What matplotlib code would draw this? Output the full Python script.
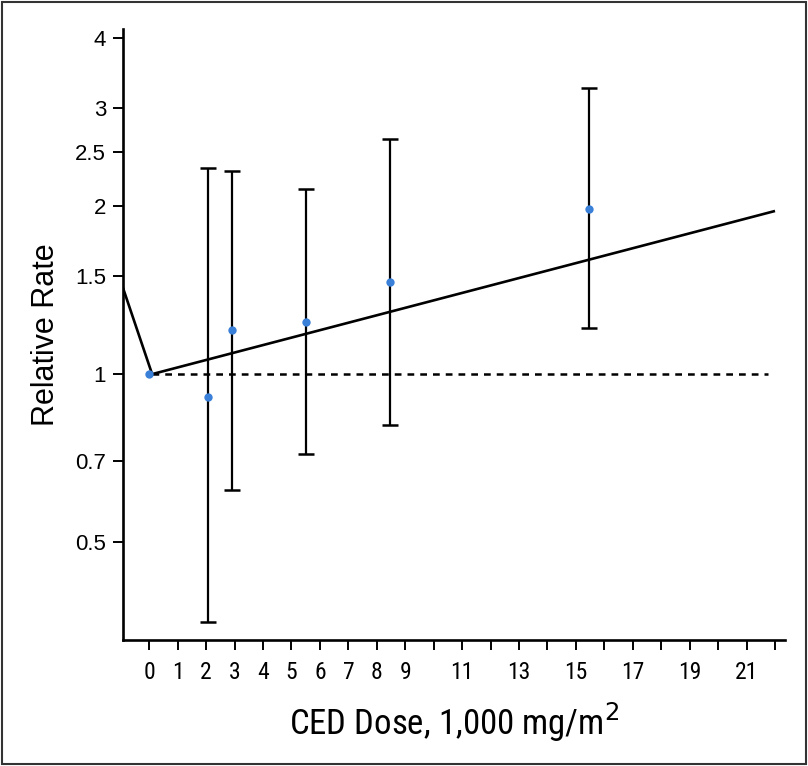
import matplotlib
matplotlib.use("Agg")
import matplotlib.pyplot as plt
from matplotlib.patches import Rectangle
from matplotlib import font_manager as fm
import numpy as np

# Data
dose = [0.0, 2.05, 2.9, 5.5, 8.45, 15.45]
rr = [1.0, 0.91, 1.20, 1.24, 1.46, 1.98]
ci_low = [np.nan, 0.36, 0.62, 0.72, 0.81, 1.21]
ci_high = [np.nan, 2.34, 2.31, 2.15, 2.64, 3.25]

fit_x = [-0.93, 0.1, 22.0]
fit_y = [1.43, 1.0, 1.96]

ref_x = [0.1, 21.75]
ref_y = [1.0, 1.0]

y_ticks = [0.5, 0.7, 1, 1.5, 2, 2.5, 3, 4]
y_ticklabels = ["0.5", "0.7", "1", "1.5", "2", "2.5", "3", "4"]
x_ticks = list(range(0, 23))
x_ticklabels = ["0", "1", "2", "3", "4", "5", "6", "7", "8", "9", "", "11", "",
                "13", "", "15", "", "17", "", "19", "", "21", ""]

names = {f.name for f in fm.fontManager.ttflist}
cond = None
for cand in ["Roboto Condensed", "Liberation Sans Narrow", "Arial Narrow",
             "PT Sans Narrow", "Archivo Narrow", "Open Sans Condensed"]:
    if cand in names:
        cond = cand
        break

regular = "Liberation Sans"
if cond is not None:
    narrow = cond
    xt_size, xl_size = 17, 25
else:
    narrow = regular
    xt_size, xl_size = 14, 21

fig = plt.figure(figsize=(8.08, 7.66), dpi=100)
ax = fig.add_axes([0.152, 0.1645, 0.8195, 0.7975])

dot_color = "#3a80d8"

ax.plot(fit_x, fit_y, color="black", lw=1.9, zorder=2, solid_capstyle="butt")
ax.plot(ref_x, ref_y, color="black", lw=1.8, dashes=(2.7, 2.4), zorder=1)

d = np.array(dose)
r = np.array(rr)
lo = np.array(ci_low)
hi = np.array(ci_high)
m = ~np.isnan(lo)
ax.errorbar(d[m], r[m], yerr=[r[m] - lo[m], hi[m] - r[m]], fmt="none",
            ecolor="black", elinewidth=1.6, capsize=6, capthick=1.8, zorder=3)
ax.plot(d, r, "o", color=dot_color, markersize=6, markeredgewidth=0, zorder=4)

ax.set_yscale("log")
ax.set_ylim(0.334, 4.15)
ax.set_xlim(-0.93, 22.35)

ax.yaxis.set_minor_locator(matplotlib.ticker.NullLocator())
ax.set_yticks(y_ticks)
ax.set_yticklabels(y_ticklabels)
ax.set_xticks(x_ticks)
ax.set_xticklabels(x_ticklabels)

ax.tick_params(axis="y", length=7, width=1.4, pad=5, colors="black",
               labelsize=16, labelfontfamily=regular)
ax.tick_params(axis="x", length=7, width=1.4, pad=8, colors="black",
               labelsize=xt_size, labelfontfamily=narrow)

for s in ["top", "right"]:
    ax.spines[s].set_visible(False)
for s in ["left", "bottom"]:
    ax.spines[s].set_linewidth(1.9)

ax.set_ylabel("Relative Rate", family=regular, fontsize=22, labelpad=10)
ax.set_xlabel("CED Dose, 1,000 mg/m$^2$", family=narrow,
              fontsize=xl_size, labelpad=12)

fig.patches.append(Rectangle((0.002, 0.002), 0.996, 0.996, transform=fig.transFigure,
                             fill=False, edgecolor="#333333", lw=1.5))

fig.savefig("out.png", dpi=100)
